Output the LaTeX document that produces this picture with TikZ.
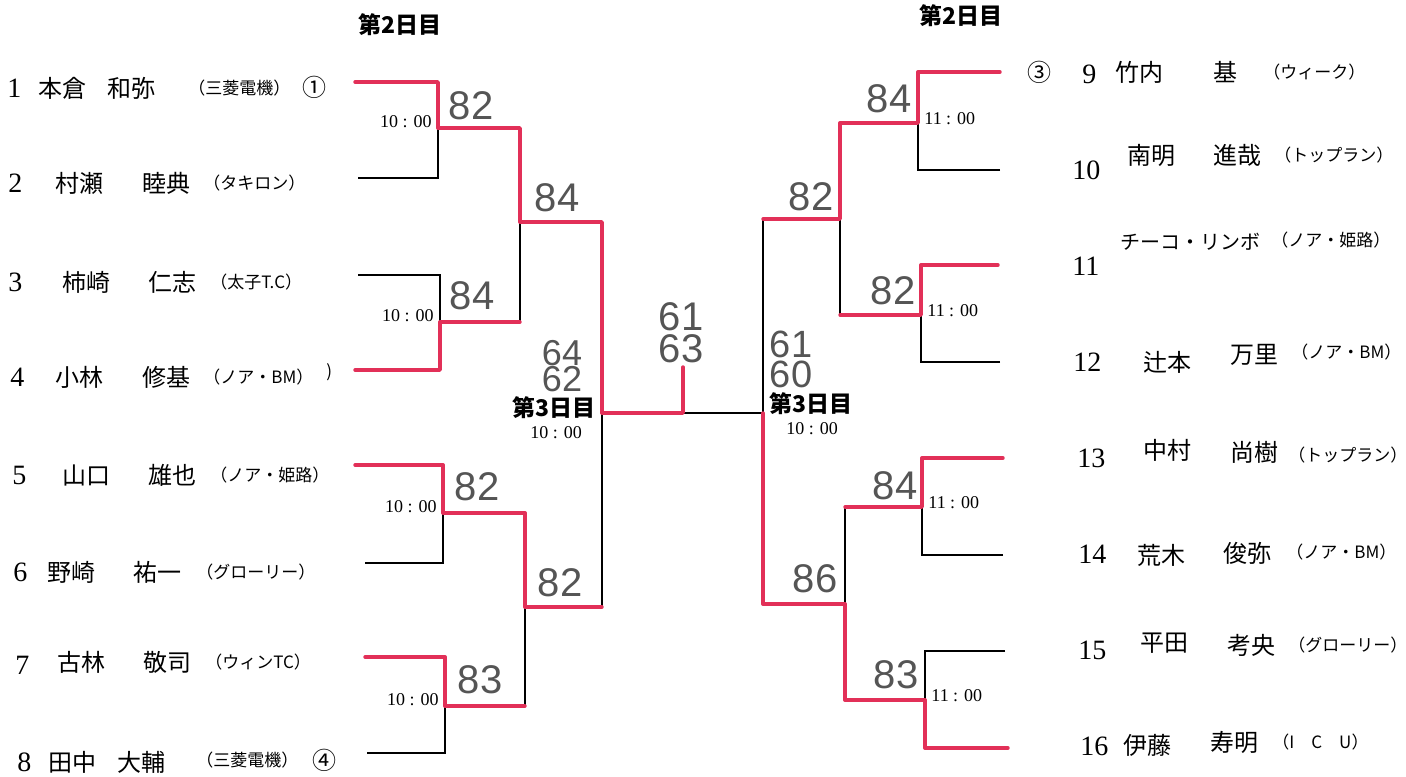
\documentclass[tikz,border=0pt]{standalone}
\usepackage{fontspec}
\setmainfont{Liberation Serif}
\newfontfamily\jp{Noto Sans CJK JP}
\newfontfamily\hand{Liberation Sans}
\definecolor{mk}{RGB}{226,48,88}
\definecolor{pen}{RGB}{85,85,85}
\begin{document}
\begin{tikzpicture}[x=0.5pt,y=-0.5pt,
 wl/.style={draw=black,line width=0.6pt},
 rl/.style={draw=mk,line width=1.7pt,line join=round,line cap=round},
 num/.style={anchor=west,inner sep=0,font=\fontsize{14}{14}\selectfont},
 nm/.style={anchor=west,inner sep=0,font=\jp\fontsize{12}{12}\selectfont},
 tm/.style={anchor=west,inner sep=0,font=\jp\fontsize{8.5}{8.5}\selectfont},
 tt/.style={inner sep=0,font=\fontsize{9}{9}\selectfont},
 day/.style={anchor=west,inner sep=0,font=\jp\bfseries\fontsize{11.5}{11.5}\selectfont},
 sc/.style={inner sep=0,text=pen,font=\hand\fontsize{20}{20}\selectfont},
 stk/.style={inner sep=0,text=pen,align=center},
]
\fill[white] (0,0) rectangle (1406,776);
\useasboundingbox (0,0) rectangle (1406,776);

% ---------- coordinates ----------
\coordinate (a1) at (355,82);  \coordinate (c1) at (438,82);  \coordinate (m1) at (438,128); \coordinate (d1) at (438,178); \coordinate (b1) at (358,178);
\coordinate (a2) at (358,275); \coordinate (c2) at (440,275); \coordinate (m2) at (440,322); \coordinate (d2) at (440,370); \coordinate (b2) at (355,370);
\coordinate (a3) at (355,465); \coordinate (c3) at (443,465); \coordinate (m3) at (443,513); \coordinate (d3) at (443,563); \coordinate (b3) at (365,563);
\coordinate (a4) at (365,657); \coordinate (c4) at (445,657); \coordinate (m4) at (445,706); \coordinate (d4) at (445,753); \coordinate (b4) at (367,753);
\coordinate (s1t) at (520,128); \coordinate (s1m) at (520,222); \coordinate (s1b) at (520,322);
\coordinate (s2t) at (525,513); \coordinate (s2m) at (525,607); \coordinate (s2b) at (525,706);
\coordinate (ft) at (602,222); \coordinate (fm) at (602,413); \coordinate (fb) at (602,607);
\coordinate (fk) at (683,413); \coordinate (fs) at (683,367);
\coordinate (gt) at (763,219); \coordinate (gm) at (763,413); \coordinate (gb) at (763,604);
\coordinate (t1t) at (840,123); \coordinate (t1m) at (840,219); \coordinate (t1b) at (840,315);
\coordinate (t2t) at (845,507); \coordinate (t2m) at (845,604); \coordinate (t2b) at (845,700);
\coordinate (e1) at (1000,72);  \coordinate (f1) at (918,72);  \coordinate (n1) at (918,123); \coordinate (h1) at (918,170); \coordinate (k1) at (1000,170);
\coordinate (e2) at (998,265);  \coordinate (f2) at (921,265); \coordinate (n2) at (921,315); \coordinate (h2) at (921,362); \coordinate (k2) at (1000,362);
\coordinate (e3) at (1003,458); \coordinate (f3) at (922,458); \coordinate (n3) at (922,507); \coordinate (h3) at (922,555); \coordinate (k3) at (1003,555);
\coordinate (e4) at (1005,651); \coordinate (f4) at (925,651); \coordinate (n4) at (925,700); \coordinate (h4) at (925,748); \coordinate (k4) at (1008,748);

% ---------- black lines ----------
\draw[wl] (b1)--(d1)--(m1);
\draw[wl] (a2)--(c2)--(m2);
\draw[wl] (s1m)--(s1b);
\draw[wl] (b3)--(d3)--(m3);
\draw[wl] (b4)--(d4)--(m4);
\draw[wl] (s2m)--(s2b);
\draw[wl] (fm)--(fb);
\draw[wl] (fk)--(gm);
\draw[wl] (gt)--(gm);
\draw[wl] (k1)--(h1)--(n1);
\draw[wl] (k2)--(h2)--(n2);
\draw[wl] (t1m)--(t1b);
\draw[wl] (k3)--(h3)--(n3);
\draw[wl] (e4)--(f4)--(n4);
\draw[wl] (t2t)--(t2m);

% ---------- red (winners) ----------
\draw[rl] (a1)--(c1)--(m1)--(s1t)--(s1m)--(ft)--(fm)--(fk)--(fs);
\draw[rl] (b2)--(d2)--(m2)--(s1b);
\draw[rl] (a3)--(c3)--(m3)--(s2t)--(s2m)--(fb);
\draw[rl] (a4)--(c4)--(m4)--(s2b);
\draw[rl] (e1)--(f1)--(n1)--(t1t)--(t1m)--(gt);
\draw[rl] (e2)--(f2)--(n2)--(t1b);
\draw[rl] (e3)--(f3)--(n3)--(t2t);
\draw[rl] (k4)--(h4)--(n4)--(t2b)--(t2m)--(gb)--(gm);

% ---------- times ----------
\node[tt,anchor=east] (tm1) at ([xshift=-3,yshift=3]m1) {10 : 00};
\node[tt,anchor=east] (tm2) at ([xshift=-3,yshift=3]m2) {10 : 00};
\node[tt,anchor=east] (tm3) at ([xshift=-3,yshift=3]m3) {10 : 00};
\node[tt,anchor=east] (tm4) at ([xshift=-3,yshift=3]m4) {10 : 00};
\node[tt,anchor=west] (tn1) at ([xshift=3,yshift=2]n1) {11 : 00};
\node[tt,anchor=west] (tn2) at ([xshift=3,yshift=2]n2) {11 : 00};
\node[tt,anchor=west] (tn3) at ([xshift=3,yshift=2]n3) {11 : 00};
\node[tt,anchor=west] (tn4) at ([xshift=3,yshift=2]n4) {11 : 00};
\node[tt] (tf1) at (556,433) {10 : 00};
\node[tt] (tf2) at (812,429) {10 : 00};

% ---------- day labels ----------
\node[day] (d2l) at (358,25) {第2日目};
\node[day] (d2r) at (919,16) {第2日目};
\node[day] (d3l) at (512,408) {第3日目};
\node[day] (d3r) at (769,404) {第3日目};

% ---------- handwritten scores ----------
\node[sc] (h82a) at (471,106) {82};
\node[sc] (h84a) at (557,198) {84};
\node[sc] (h84b) at (472,296) {84};
\node[sc] (h82b) at (477,487) {82};
\node[sc] (h82c) at (560,583) {82};
\node[sc] (h83a) at (480,680) {83};
\node[sc] (h84c) at (889,99) {84};
\node[sc] (h82d) at (811,197) {82};
\node[sc] (h82e) at (893,291) {82};
\node[sc] (h84d) at (895,486) {84};
\node[sc] (h86a) at (815,579) {86};
\node[sc] (h83b) at (896,675) {83};
\node[stk,font=\hand\fontsize{20}{16}\selectfont] (hfin) at (681,333) {61\\63};
\node[stk,font=\hand\fontsize{18}{13}\selectfont] (hsfl) at (562,366) {64\\62};
\node[stk,font=\hand\fontsize{19}{15}\selectfont] (hsfr) at (791,359) {61\\60};

% ---------- left players ----------
\node[num] (p1n) at (7,88) {1};
\node[nm] (p1a) at (38,88) {本倉};
\node[nm] (p1b) at (107,88) {和弥};
\node[tm] (p1c) at (188,88) {（三菱電機）};
\node[nm] (p1s) at (302,87) {①};

\node[num] (p2n) at (8,183) {2};
\node[nm] (p2a) at (55,183) {村瀬};
\node[nm] (p2b) at (142,183) {睦典};
\node[tm] (p2c) at (203,183) {（タキロン）};

\node[num] (p3n) at (8,282) {3};
\node[nm] (p3a) at (62,282) {柿崎};
\node[nm] (p3b) at (148,282) {仁志};
\node[tm] (p3c) at (210,282) {（太子T.C）};

\node[num] (p4n) at (10,377) {4};
\node[nm] (p4a) at (55,377) {小林};
\node[nm] (p4b) at (142,377) {修基};
\node[tm] (p4c) at (203,377) {（ノア・BM）};
\node[tm] (p4x) at (326,372) {)};

\node[num] (p5n) at (12,475) {5};
\node[nm] (p5a) at (62,475) {山口};
\node[nm] (p5b) at (148,475) {雄也};
\node[tm] (p5c) at (210,475) {（ノア・姫路）};

\node[num] (p6n) at (13,572) {6};
\node[nm] (p6a) at (47,572) {野崎};
\node[nm] (p6b) at (133,572) {祐一};
\node[tm] (p6c) at (196,572) {（グローリー）};

\node[num] (p7n) at (15,665) {7};
\node[nm] (p7a) at (57,662) {古林};
\node[nm] (p7b) at (143,662) {敬司};
\node[tm] (p7c) at (205,662) {（ウィンTC）};

\node[num] (p8n) at (17,762) {8};
\node[nm] (p8a) at (48,762) {田中};
\node[nm] (p8b) at (117,762) {大輔};
\node[tm] (p8c) at (196,760) {（三菱電機）};
\node[nm] (p8s) at (312,760) {④};

% ---------- right players ----------
\node[nm] (q9s) at (1027,72) {③};
\node[num] (q9n) at (1082,74) {9};
\node[nm] (q9a) at (1115,72) {竹内};
\node[nm] (q9b) at (1213,72) {基};
\node[tm] (q9c) at (1263,72) {（ウィーク）};

\node[num] (q10n) at (1072,170) {10};
\node[nm] (q10a) at (1127,155) {南明};
\node[nm] (q10b) at (1213,155) {進哉};
\node[tm] (q10c) at (1274,155) {（トップラン）};

\node[num] (q11n) at (1072,266) {11};
\node[nm,font=\jp\fontsize{10}{10}\selectfont] (q11a) at (1120,242) {チーコ・リンボ};
\node[tm] (q11c) at (1271,240) {（ノア・姫路）};

\node[num] (q12n) at (1073,362) {12};
\node[nm] (q12a) at (1143,362) {辻本};
\node[nm] (q12b) at (1230,355) {万里};
\node[tm] (q12c) at (1291,352) {（ノア・BM）};

\node[num] (q13n) at (1077,458) {13};
\node[nm] (q13a) at (1143,450) {中村};
\node[nm] (q13b) at (1230,452) {尚樹};
\node[tm] (q13c) at (1288,455) {（トップラン）};

\node[num] (q14n) at (1078,554) {14};
\node[nm] (q14a) at (1137,555) {荒木};
\node[nm] (q14b) at (1223,553) {俊弥};
\node[tm] (q14c) at (1286,552) {（ノア・BM）};

\node[num] (q15n) at (1078,650) {15};
\node[nm] (q15a) at (1140,643) {平田};
\node[nm] (q15b) at (1227,645) {考央};
\node[tm] (q15c) at (1288,645) {（グローリー）};

\node[num] (q16n) at (1080,746) {16};
\node[nm] (q16a) at (1123,745) {伊藤};
\node[nm] (q16b) at (1210,742) {寿明};
\node[tm] (q16c) at (1272,742) {（I\quad C\quad U）};
\end{tikzpicture}
\end{document}
